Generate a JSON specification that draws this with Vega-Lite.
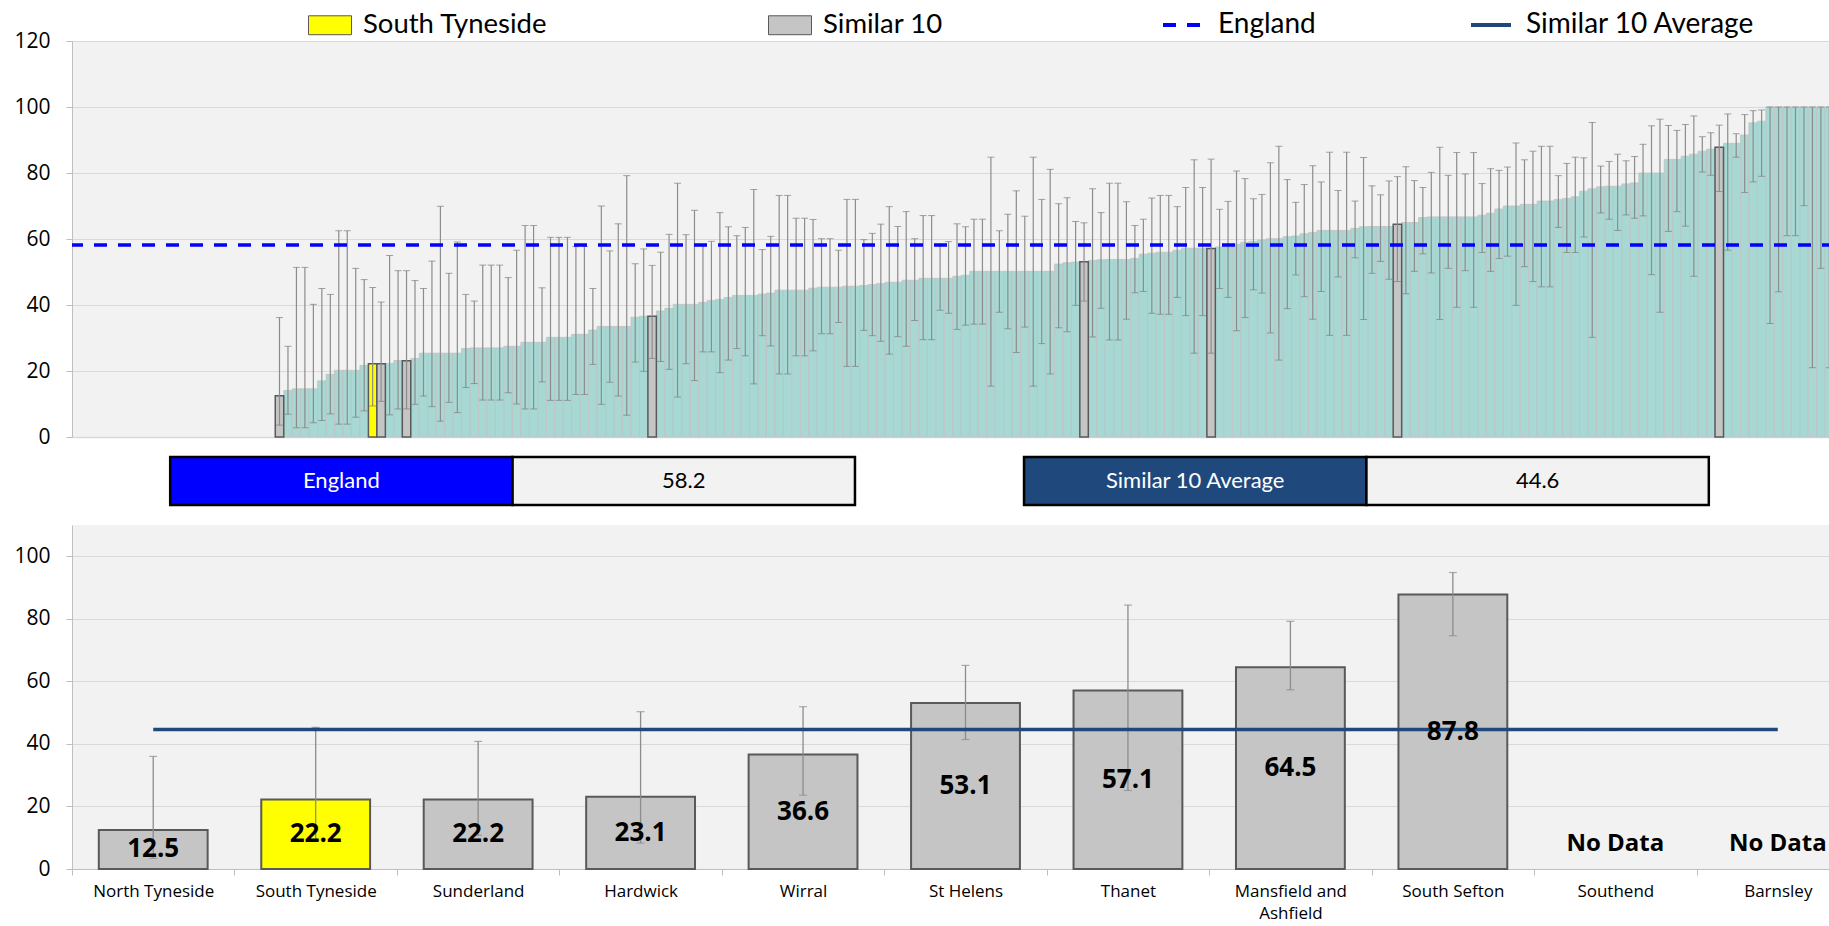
{
  "$schema": "https://vega.github.io/schema/vega-lite/v6.json",
  "padding": {"left": 13, "top": 3, "right": 0, "bottom": 0},
  "spacing": 20,
  "bounds": "flush",
  "datasets": {
    "top": [
      {"r":1,"g":"None"},{"r":2,"g":"None"},{"r":3,"g":"None"},{"r":4,"g":"None"},{"r":5,"g":"None"},{"r":6,"g":"None"},{"r":7,"g":"None"},{"r":8,"g":"None"},{"r":9,"g":"None"},{"r":10,"g":"None"},{"r":11,"g":"None"},{"r":12,"g":"None"},{"r":13,"g":"None"},{"r":14,"g":"None"},{"r":15,"g":"None"},{"r":16,"g":"None"},{"r":17,"g":"None"},{"r":18,"g":"None"},{"r":19,"g":"None"},{"r":20,"g":"None"},{"r":21,"g":"None"},{"r":22,"g":"None"},{"r":23,"g":"None"},{"r":24,"g":"None"},
      {"r":25,"v":12.5,"hi":36.2,"lo":3.6,"g":"Similar 10"},
      {"r":26,"v":14.1,"hi":27.5,"lo":6.9,"g":"Other"},
      {"r":27,"v":14.6,"hi":51.4,"lo":2.8,"g":"Other"},
      {"r":28,"v":14.6,"hi":51.4,"lo":2.8,"g":"Other"},
      {"r":29,"v":14.6,"hi":40.2,"lo":4.3,"g":"Other"},
      {"r":30,"v":17,"hi":45,"lo":5,"g":"Other"},
      {"r":31,"v":19,"hi":43.2,"lo":7,"g":"Other"},
      {"r":32,"v":20.2,"hi":62.5,"lo":3.9,"g":"Other"},
      {"r":33,"v":20.2,"hi":62.5,"lo":3.9,"g":"Other"},
      {"r":34,"v":20.2,"hi":51.1,"lo":6,"g":"Other"},
      {"r":35,"v":21.7,"hi":47.7,"lo":7.9,"g":"Other"},
      {"r":36,"v":22.2,"hi":45.3,"lo":9.4,"g":"South Tyneside"},
      {"r":37,"v":22.2,"hi":40.9,"lo":10.8,"g":"Similar 10"},
      {"r":38,"v":22.3,"hi":55,"lo":6.7,"g":"Other"},
      {"r":39,"v":23.2,"hi":50.4,"lo":8.5,"g":"Other"},
      {"r":40,"v":23.1,"hi":50.4,"lo":8.5,"g":"Similar 10"},
      {"r":41,"v":23.8,"hi":47.4,"lo":9.9,"g":"Other"},
      {"r":42,"v":25.4,"hi":45,"lo":12.4,"g":"Other"},
      {"r":43,"v":25.4,"hi":53.3,"lo":9.2,"g":"Other"},
      {"r":44,"v":25.4,"hi":69.9,"lo":4.8,"g":"Other"},
      {"r":45,"v":25.4,"hi":49.6,"lo":10.5,"g":"Other"},
      {"r":46,"v":25.4,"hi":59.1,"lo":7.4,"g":"Other"},
      {"r":47,"v":26.8,"hi":43.2,"lo":15,"g":"Other"},
      {"r":48,"v":27,"hi":41.2,"lo":16.2,"g":"Other"},
      {"r":49,"v":27,"hi":52.1,"lo":11.2,"g":"Other"},
      {"r":50,"v":27,"hi":52.1,"lo":11.2,"g":"Other"},
      {"r":51,"v":27,"hi":52.1,"lo":11.2,"g":"Other"},
      {"r":52,"v":27.5,"hi":48.3,"lo":13.4,"g":"Other"},
      {"r":53,"v":27.5,"hi":56.6,"lo":10,"g":"Other"},
      {"r":54,"v":28.7,"hi":64.1,"lo":8.5,"g":"Other"},
      {"r":55,"v":28.7,"hi":64.1,"lo":8.5,"g":"Other"},
      {"r":56,"v":28.7,"hi":45.2,"lo":16.7,"g":"Other"},
      {"r":57,"v":30.2,"hi":60.5,"lo":11.1,"g":"Other"},
      {"r":58,"v":30.2,"hi":60.5,"lo":11.1,"g":"Other"},
      {"r":59,"v":30.2,"hi":60.5,"lo":11.1,"g":"Other"},
      {"r":60,"v":31.1,"hi":57.7,"lo":12.9,"g":"Other"},
      {"r":61,"v":31.1,"hi":57.7,"lo":12.9,"g":"Other"},
      {"r":62,"v":32.4,"hi":45,"lo":22,"g":"Other"},
      {"r":63,"v":33.5,"hi":70,"lo":9.9,"g":"Other"},
      {"r":64,"v":33.5,"hi":56.4,"lo":16.6,"g":"Other"},
      {"r":65,"v":33.5,"hi":64.6,"lo":12.4,"g":"Other"},
      {"r":66,"v":33.5,"hi":79.2,"lo":6.6,"g":"Other"},
      {"r":67,"v":36.3,"hi":52.5,"lo":22.7,"g":"Other"},
      {"r":68,"v":36.6,"hi":57,"lo":19.9,"g":"Other"},
      {"r":69,"v":36.6,"hi":52,"lo":23.8,"g":"Similar 10"},
      {"r":70,"v":38.2,"hi":56,"lo":22.9,"g":"Other"},
      {"r":71,"v":39,"hi":61.4,"lo":20.5,"g":"Other"},
      {"r":72,"v":40.2,"hi":76.9,"lo":12.1,"g":"Other"},
      {"r":73,"v":40.2,"hi":61.3,"lo":22.2,"g":"Other"},
      {"r":74,"v":40.2,"hi":68.7,"lo":17.1,"g":"Other"},
      {"r":75,"v":40.8,"hi":58,"lo":25.8,"g":"Other"},
      {"r":76,"v":41.4,"hi":59.3,"lo":25.8,"g":"Other"},
      {"r":77,"v":41.7,"hi":68,"lo":19.5,"g":"Other"},
      {"r":78,"v":42.3,"hi":63.7,"lo":23.3,"g":"Other"},
      {"r":79,"v":42.9,"hi":61,"lo":26.8,"g":"Other"},
      {"r":80,"v":42.9,"hi":63.5,"lo":24.6,"g":"Other"},
      {"r":81,"v":42.9,"hi":75,"lo":16.1,"g":"Other"},
      {"r":82,"v":43.3,"hi":56.8,"lo":30.7,"g":"Other"},
      {"r":83,"v":43.6,"hi":60.8,"lo":27.6,"g":"Other"},
      {"r":84,"v":44.5,"hi":73.2,"lo":19.1,"g":"Other"},
      {"r":85,"v":44.5,"hi":73.2,"lo":19.1,"g":"Other"},
      {"r":86,"v":44.5,"hi":66.3,"lo":24.6,"g":"Other"},
      {"r":87,"v":44.5,"hi":66.3,"lo":24.6,"g":"Other"},
      {"r":88,"v":45.1,"hi":65.9,"lo":26.1,"g":"Other"},
      {"r":89,"v":45.4,"hi":60.1,"lo":31.3,"g":"Other"},
      {"r":90,"v":45.4,"hi":60.1,"lo":31.3,"g":"Other"},
      {"r":91,"v":45.4,"hi":56.6,"lo":34.7,"g":"Other"},
      {"r":92,"v":45.7,"hi":72,"lo":21.4,"g":"Other"},
      {"r":93,"v":45.7,"hi":72,"lo":21.4,"g":"Other"},
      {"r":94,"v":45.9,"hi":59.8,"lo":32.3,"g":"Other"},
      {"r":95,"v":46.2,"hi":61.7,"lo":30.7,"g":"Other"},
      {"r":96,"v":46.5,"hi":64.5,"lo":29,"g":"Other"},
      {"r":97,"v":46.9,"hi":69.8,"lo":25.1,"g":"Other"},
      {"r":98,"v":46.9,"hi":63.8,"lo":30.4,"g":"Other"},
      {"r":99,"v":47.5,"hi":68.3,"lo":27.5,"g":"Other"},
      {"r":100,"v":47.5,"hi":60.1,"lo":35.3,"g":"Other"},
      {"r":101,"v":48.1,"hi":67.1,"lo":29.5,"g":"Other"},
      {"r":102,"v":48.1,"hi":67.1,"lo":29.5,"g":"Other"},
      {"r":103,"v":48.1,"hi":58,"lo":38.4,"g":"Other"},
      {"r":104,"v":48.1,"hi":59.2,"lo":37.5,"g":"Other"},
      {"r":105,"v":48.7,"hi":64.6,"lo":32.6,"g":"Other"},
      {"r":106,"v":49,"hi":63.7,"lo":33.9,"g":"Other"},
      {"r":107,"v":50.2,"hi":66,"lo":34.2,"g":"Other"},
      {"r":108,"v":50.2,"hi":66,"lo":34.2,"g":"Other"},
      {"r":109,"v":50.2,"hi":84.8,"lo":15.4,"g":"Other"},
      {"r":110,"v":50.2,"hi":62.5,"lo":37.8,"g":"Other"},
      {"r":111,"v":50.2,"hi":67.5,"lo":32.8,"g":"Other"},
      {"r":112,"v":50.2,"hi":74.6,"lo":25.6,"g":"Other"},
      {"r":113,"v":50.2,"hi":66.9,"lo":33.3,"g":"Other"},
      {"r":114,"v":50.2,"hi":84.8,"lo":15.4,"g":"Other"},
      {"r":115,"v":50.2,"hi":72,"lo":28.3,"g":"Other"},
      {"r":116,"v":50.2,"hi":81.1,"lo":19.1,"g":"Other"},
      {"r":117,"v":52.4,"hi":70.7,"lo":33.1,"g":"Other"},
      {"r":118,"v":52.8,"hi":72.5,"lo":31.9,"g":"Other"},
      {"r":119,"v":53,"hi":65.3,"lo":39.9,"g":"Other"},
      {"r":120,"v":53.1,"hi":64.9,"lo":41.2,"g":"Similar 10"},
      {"r":121,"v":53.5,"hi":75.2,"lo":30.3,"g":"Other"},
      {"r":122,"v":53.7,"hi":68,"lo":39,"g":"Other"},
      {"r":123,"v":53.8,"hi":76.9,"lo":29.4,"g":"Other"},
      {"r":124,"v":53.8,"hi":76.9,"lo":29.4,"g":"Other"},
      {"r":125,"v":53.8,"hi":71.3,"lo":35.7,"g":"Other"},
      {"r":126,"v":54.1,"hi":64.1,"lo":43.7,"g":"Other"},
      {"r":127,"v":55.4,"hi":66,"lo":44.1,"g":"Other"},
      {"r":128,"v":55.7,"hi":72.4,"lo":37.5,"g":"Other"},
      {"r":129,"v":56,"hi":73.2,"lo":37.2,"g":"Other"},
      {"r":130,"v":56,"hi":73.2,"lo":37.2,"g":"Other"},
      {"r":131,"v":56.6,"hi":69.8,"lo":42.3,"g":"Other"},
      {"r":132,"v":57.2,"hi":75.6,"lo":36.8,"g":"Other"},
      {"r":133,"v":57.2,"hi":84,"lo":25.4,"g":"Other"},
      {"r":134,"v":57.2,"hi":75.6,"lo":36.8,"g":"Other"},
      {"r":135,"v":57.1,"hi":84.2,"lo":25.4,"g":"Similar 10"},
      {"r":136,"v":57.6,"hi":69,"lo":45,"g":"Other"},
      {"r":137,"v":57.6,"hi":71.4,"lo":42.3,"g":"Other"},
      {"r":138,"v":58.4,"hi":80.6,"lo":32.2,"g":"Other"},
      {"r":139,"v":59,"hi":78.3,"lo":36.2,"g":"Other"},
      {"r":140,"v":59.3,"hi":72.2,"lo":44.6,"g":"Other"},
      {"r":141,"v":59.7,"hi":73.5,"lo":43.6,"g":"Other"},
      {"r":142,"v":60.1,"hi":83.1,"lo":31.5,"g":"Other"},
      {"r":143,"v":60.1,"hi":88.1,"lo":23.3,"g":"Other"},
      {"r":144,"v":60.7,"hi":78,"lo":38.9,"g":"Other"},
      {"r":145,"v":60.9,"hi":71.1,"lo":49.1,"g":"Other"},
      {"r":146,"v":61.6,"hi":76.5,"lo":42.5,"g":"Other"},
      {"r":147,"v":62,"hi":82.2,"lo":35.7,"g":"Other"},
      {"r":148,"v":62.6,"hi":77.3,"lo":44.1,"g":"Other"},
      {"r":149,"v":62.6,"hi":86.3,"lo":30.8,"g":"Other"},
      {"r":150,"v":62.6,"hi":74.7,"lo":48.5,"g":"Other"},
      {"r":151,"v":62.6,"hi":86.3,"lo":30.8,"g":"Other"},
      {"r":152,"v":63.2,"hi":71.5,"lo":54.3,"g":"Other"},
      {"r":153,"v":63.7,"hi":84.7,"lo":35.6,"g":"Other"},
      {"r":154,"v":63.8,"hi":76.1,"lo":49.6,"g":"Other"},
      {"r":155,"v":63.8,"hi":73.4,"lo":53.2,"g":"Other"},
      {"r":156,"v":63.8,"hi":77.6,"lo":47.8,"g":"Other"},
      {"r":157,"v":64.5,"hi":78.9,"lo":47.1,"g":"Similar 10"},
      {"r":158,"v":65,"hi":81.9,"lo":43.4,"g":"Other"},
      {"r":159,"v":65,"hi":77.7,"lo":50.2,"g":"Other"},
      {"r":160,"v":66.5,"hi":75.6,"lo":55.5,"g":"Other"},
      {"r":161,"v":66.7,"hi":80.2,"lo":49.7,"g":"Other"},
      {"r":162,"v":66.7,"hi":87.8,"lo":35.6,"g":"Other"},
      {"r":163,"v":66.7,"hi":79.3,"lo":51.1,"g":"Other"},
      {"r":164,"v":66.7,"hi":86.2,"lo":39.3,"g":"Other"},
      {"r":165,"v":66.7,"hi":79.7,"lo":50.4,"g":"Other"},
      {"r":166,"v":66.7,"hi":86.2,"lo":39.3,"g":"Other"},
      {"r":167,"v":67.2,"hi":76.8,"lo":55.9,"g":"Other"},
      {"r":168,"v":67.8,"hi":81.3,"lo":50.2,"g":"Other"},
      {"r":169,"v":69.1,"hi":80.8,"lo":54.1,"g":"Other"},
      {"r":170,"v":70,"hi":81.8,"lo":54.8,"g":"Other"},
      {"r":171,"v":70,"hi":89.1,"lo":39.9,"g":"Other"},
      {"r":172,"v":70.5,"hi":84,"lo":51.6,"g":"Other"},
      {"r":173,"v":70.5,"hi":86.6,"lo":47.1,"g":"Other"},
      {"r":174,"v":71.5,"hi":88.1,"lo":45.5,"g":"Other"},
      {"r":175,"v":71.5,"hi":88.1,"lo":45.5,"g":"Other"},
      {"r":176,"v":72,"hi":79.2,"lo":63.5,"g":"Other"},
      {"r":177,"v":72.3,"hi":82.9,"lo":55.9,"g":"Other"},
      {"r":178,"v":72.8,"hi":84.8,"lo":55.9,"g":"Other"},
      {"r":179,"v":74.5,"hi":84.6,"lo":60.6,"g":"Other"},
      {"r":180,"v":75.2,"hi":95.3,"lo":30.2,"g":"Other"},
      {"r":181,"v":75.8,"hi":82.1,"lo":67.9,"g":"Other"},
      {"r":182,"v":76,"hi":83.5,"lo":66,"g":"Other"},
      {"r":183,"v":76,"hi":85.7,"lo":62.6,"g":"Other"},
      {"r":184,"v":76.7,"hi":83.7,"lo":67.3,"g":"Other"},
      {"r":185,"v":77,"hi":85,"lo":66.3,"g":"Other"},
      {"r":186,"v":80,"hi":88.7,"lo":67,"g":"Other"},
      {"r":187,"v":80,"hi":94.3,"lo":49.2,"g":"Other"},
      {"r":188,"v":80,"hi":96.3,"lo":37.8,"g":"Other"},
      {"r":189,"v":84.1,"hi":94.4,"lo":62.3,"g":"Other"},
      {"r":190,"v":84.1,"hi":92.9,"lo":68.3,"g":"Other"},
      {"r":191,"v":85.1,"hi":94.7,"lo":63.9,"g":"Other"},
      {"r":192,"v":85.7,"hi":97.3,"lo":48.7,"g":"Other"},
      {"r":193,"v":86.6,"hi":91,"lo":80.3,"g":"Other"},
      {"r":194,"v":87.2,"hi":92.2,"lo":79.3,"g":"Other"},
      {"r":195,"v":87.8,"hi":94.5,"lo":74.4,"g":"Similar 10"},
      {"r":196,"v":89,"hi":97.9,"lo":56.6,"g":"Other"},
      {"r":197,"v":89,"hi":91.9,"lo":84.8,"g":"Other"},
      {"r":198,"v":91.5,"hi":97.7,"lo":74.1,"g":"Other"},
      {"r":199,"v":95.2,"hi":98.9,"lo":77.3,"g":"Other"},
      {"r":200,"v":95.7,"hi":99.1,"lo":79,"g":"Other"},
      {"r":201,"v":100,"hi":100,"lo":34.4,"g":"Other"},
      {"r":202,"v":100,"hi":100,"lo":44,"g":"Other"},
      {"r":203,"v":100,"hi":100,"lo":61,"g":"Other"},
      {"r":204,"v":100,"hi":100,"lo":61,"g":"Other"},
      {"r":205,"v":100,"hi":100,"lo":70.1,"g":"Other"},
      {"r":206,"v":100,"hi":100,"lo":21,"g":"Other"},
      {"r":207,"v":100,"hi":100,"lo":51.1,"g":"Other"},
      {"r":208,"v":100,"hi":100,"lo":21,"g":"Other"},
      {"r":209,"v":100,"hi":100,"lo":55,"g":"Other"},
      {"r":210,"v":100,"hi":100,"lo":48,"g":"Other"},
      {"r":211,"v":100,"hi":100,"lo":62,"g":"Other"}
    ],
    "bottom": [
      {"a":"North Tyneside","v":12.5,"hi":36.0,"lo":3.4,"g":"Similar 10"},
      {"a":"South Tyneside","v":22.2,"hi":45.3,"lo":9.2,"g":"South Tyneside"},
      {"a":"Sunderland","v":22.2,"hi":40.8,"lo":10.8,"g":"Similar 10"},
      {"a":"Hardwick","v":23.1,"hi":50.3,"lo":8.3,"g":"Similar 10"},
      {"a":"Wirral","v":36.6,"hi":51.9,"lo":23.6,"g":"Similar 10"},
      {"a":"St Helens","v":53.1,"hi":65.1,"lo":41.4,"g":"Similar 10"},
      {"a":"Thanet","v":57.1,"hi":84.4,"lo":25.1,"g":"Similar 10"},
      {"a":"Mansfield and Ashfield","v":64.5,"hi":79.2,"lo":57.3,"g":"Similar 10"},
      {"a":"South Sefton","v":87.8,"hi":94.8,"lo":74.6,"g":"Similar 10"},
      {"a":"Southend","g":"Similar 10"},
      {"a":"Barnsley","g":"Similar 10"}
    ],
    "avg": [
      {"a":"North Tyneside","v":44.6,"series":"Similar 10 Average"},
      {"a":"South Tyneside","v":44.6,"series":"Similar 10 Average"},
      {"a":"Sunderland","v":44.6,"series":"Similar 10 Average"},
      {"a":"Hardwick","v":44.6,"series":"Similar 10 Average"},
      {"a":"Wirral","v":44.6,"series":"Similar 10 Average"},
      {"a":"St Helens","v":44.6,"series":"Similar 10 Average"},
      {"a":"Thanet","v":44.6,"series":"Similar 10 Average"},
      {"a":"Mansfield and Ashfield","v":44.6,"series":"Similar 10 Average"},
      {"a":"South Sefton","v":44.6,"series":"Similar 10 Average"},
      {"a":"Southend","v":44.6,"series":"Similar 10 Average"},
      {"a":"Barnsley","v":44.6,"series":"Similar 10 Average"}
    ]
  },
  "vconcat": [
    {
      "width": 1787,
      "height": 396,
      "layer": [
        {
          "data": {"name": "top"},
          "mark": {"type": "point", "opacity": 0},
          "encoding": {
            "x": {"field": "r", "type": "ordinal", "scale": {"paddingInner": 0, "paddingOuter": 0}, "axis": {"labels": false, "ticks": false, "title": null, "domainColor": "#D9D9D9", "domainWidth": 1.5, "minExtent": 0, "maxExtent": 0, "labelPadding": 0}}
          }
        },
        {
          "data": {"name": "top"},
          "transform": [{"filter": "datum.g === 'Other'"}],
          "mark": {"type": "bar", "fill": "#A7D8D3", "stroke": "#C2C2C2", "strokeWidth": 0.8},
          "encoding": {
            "x": {"field": "r", "type": "ordinal"},
            "y": {"field": "v", "type": "quantitative", "scale": {"domain": [0, 120], "nice": false}, "axis": {"values": [0, 20, 40, 60, 80, 100, 120], "title": null, "grid": true, "tickSize": 6, "labelPadding": 16}}
          }
        },
        {
          "data": {"name": "top"},
          "transform": [{"filter": "datum.g === 'Similar 10' || datum.g === 'South Tyneside'"}],
          "mark": {"type": "bar", "stroke": "#595959", "strokeWidth": 1.5},
          "encoding": {
            "x": {"field": "r", "type": "ordinal"},
            "y": {"field": "v", "type": "quantitative"},
            "fill": {"field": "g", "type": "nominal", "scale": {"domain": ["South Tyneside", "Similar 10"], "range": ["#FFFF00", "#C5C5C5"]},
              "legend": {"orient": "none", "legendX": 236, "legendY": -38, "direction": "horizontal", "title": null, "padding": 0, "symbolType": "M-1,-0.44H1V0.44H-1Z", "symbolSize": 1849, "symbolStrokeColor": "#7F7F7F", "symbolStrokeWidth": 1, "labelFont": "Lato", "labelFontSize": 27.5, "labelLimit": 0, "labelOffset": 11, "columnPadding": 218, "labelColor": "#000000"}}
          }
        },
        {
          "data": {"name": "top"},
          "transform": [{"filter": "isValid(datum.v)"}],
          "mark": {"type": "rule", "color": "#8C8C8C", "strokeWidth": 1.2},
          "encoding": {
            "x": {"field": "r", "type": "ordinal"},
            "y": {"field": "lo", "type": "quantitative"},
            "y2": {"field": "hi"}
          }
        },
        {
          "data": {"name": "top"},
          "transform": [{"filter": "isValid(datum.v)"}],
          "mark": {"type": "tick", "color": "#7F7F7F", "size": 7, "thickness": 1},
          "encoding": {
            "x": {"field": "r", "type": "ordinal"},
            "y": {"field": "hi", "type": "quantitative"}
          }
        },
        {
          "data": {"name": "top"},
          "transform": [{"filter": "isValid(datum.v)"}],
          "mark": {"type": "tick", "color": "#7F7F7F", "size": 7, "thickness": 1},
          "encoding": {
            "x": {"field": "r", "type": "ordinal"},
            "y": {"field": "lo", "type": "quantitative"}
          }
        },
        {
          "data": {"values": [{"series": "England", "value": 58.2}]},
          "mark": {"type": "rule", "strokeWidth": 3.5, "strokeCap": "butt"},
          "encoding": {
            "y": {"field": "value", "type": "quantitative"},
            "stroke": {"field": "series", "type": "nominal", "scale": {"domain": ["England", "Similar 10 Average"], "range": ["#0000FF", "#1F497D"]},
              "legend": {"orient": "none", "legendX": 1089, "legendY": -38, "direction": "horizontal", "title": null, "padding": 0, "symbolType": "stroke", "symbolSize": 1600, "symbolStrokeWidth": 4, "labelFont": "Lato", "labelFontSize": 28, "labelLimit": 0, "labelOffset": 13, "columnPadding": 147, "labelColor": "#000000"}},
            "strokeDash": {"field": "series", "type": "nominal", "scale": {"domain": ["England", "Similar 10 Average"], "range": [[13, 11], [1, 0]]},
              "legend": {"orient": "none", "legendX": 1089, "legendY": -38, "direction": "horizontal", "title": null, "padding": 0, "symbolType": "stroke", "symbolSize": 1600, "symbolStrokeWidth": 4, "labelFont": "Lato", "labelFontSize": 28, "labelLimit": 0, "labelOffset": 13, "columnPadding": 147, "labelColor": "#000000"}}
          }
        }
      ]
    },
    {
      "width": 1735,
      "height": 48,
      "view": {"fill": null, "stroke": null},
      "data": {"values": [
        {"box": "England", "part": "name", "txt": "England"},
        {"box": "England", "part": "value", "txt": "58.2"},
        {"box": "Similar 10 Average", "part": "name", "txt": "Similar 10 Average"},
        {"box": "Similar 10 Average", "part": "value", "txt": "44.6"}
      ]},
      "encoding": {
        "x": {"field": "box", "type": "nominal", "sort": null, "axis": null, "scale": {"paddingInner": 0.198, "paddingOuter": 0.115}},
        "xOffset": {"field": "part", "type": "nominal", "scale": {"paddingInner": 0, "paddingOuter": 0}}
      },
      "layer": [
        {
          "mark": {"type": "rect", "stroke": "#000000", "strokeWidth": 2.5},
          "encoding": {
            "fill": {"condition": [{"test": "datum.part === 'value'", "value": "#F2F2F2"}, {"test": "datum.box === 'England'", "value": "#0000FF"}], "value": "#1F497D"}
          }
        },
        {
          "mark": {"type": "text", "font": "Lato", "fontSize": 22},
          "encoding": {
            "text": {"field": "txt"},
            "color": {"condition": {"test": "datum.part === 'name'", "value": "#FFFFFF"}, "value": "#000000"}
          }
        }
      ]
    },
    {
      "width": 1787,
      "height": 344,
      "layer": [
        {
          "data": {"name": "bottom"},
          "mark": {"type": "bar", "stroke": "#595959", "strokeWidth": 2, "width": {"band": 0.67}},
          "encoding": {
            "x": {"field": "a", "type": "nominal", "sort": null,
              "scale": {"domain": ["North Tyneside", "South Tyneside", "Sunderland", "Hardwick", "Wirral", "St Helens", "Thanet", "Mansfield and Ashfield", "South Sefton", "Southend", "Barnsley"], "paddingInner": 0, "paddingOuter": 0},
              "axis": {"title": null, "labelAngle": 0, "labelFontSize": 17, "tickBand": "extent", "tickSize": 6, "labelPadding": 8, "labelLineHeight": 22,
                "labelExpr": "datum.label === 'Mansfield and Ashfield' ? ['Mansfield and', 'Ashfield'] : datum.label"}},
            "y": {"field": "v", "type": "quantitative", "scale": {"domain": [0, 110], "nice": false}, "axis": {"values": [0, 20, 40, 60, 80, 100], "title": null, "grid": true, "tickSize": 6, "labelPadding": 16}},
            "fill": {"field": "g", "type": "nominal"}
          }
        },
        {
          "data": {"name": "bottom"},
          "transform": [{"filter": "isValid(datum.v)"}],
          "mark": {"type": "rule", "color": "#8C8C8C", "strokeWidth": 1.3},
          "encoding": {
            "x": {"field": "a", "type": "nominal", "sort": null},
            "y": {"field": "lo", "type": "quantitative"},
            "y2": {"field": "hi"}
          }
        },
        {
          "data": {"name": "bottom"},
          "transform": [{"filter": "isValid(datum.v)"}],
          "mark": {"type": "tick", "color": "#8C8C8C", "size": 8, "thickness": 1.2},
          "encoding": {
            "x": {"field": "a", "type": "nominal", "sort": null},
            "y": {"field": "hi", "type": "quantitative"}
          }
        },
        {
          "data": {"name": "bottom"},
          "transform": [{"filter": "isValid(datum.v)"}],
          "mark": {"type": "tick", "color": "#8C8C8C", "size": 8, "thickness": 1.2},
          "encoding": {
            "x": {"field": "a", "type": "nominal", "sort": null},
            "y": {"field": "lo", "type": "quantitative"}
          }
        },
        {
          "data": {"name": "avg"},
          "mark": {"type": "line", "strokeWidth": 3.5},
          "encoding": {
            "x": {"field": "a", "type": "nominal", "sort": null},
            "y": {"field": "v", "type": "quantitative"},
            "stroke": {"field": "series", "type": "nominal"},
            "strokeDash": {"field": "series", "type": "nominal"}
          }
        },
        {
          "data": {"name": "bottom"},
          "transform": [{"filter": "isValid(datum.v)"}, {"calculate": "datum.v / 2", "as": "mid"}],
          "mark": {"type": "text", "font": "Open Sans", "fontWeight": "bold", "fontSize": 26, "baseline": "middle", "color": "#000000"},
          "encoding": {
            "x": {"field": "a", "type": "nominal", "sort": null},
            "y": {"field": "mid", "type": "quantitative"},
            "text": {"field": "v", "type": "quantitative", "format": ".1f"}
          }
        },
        {
          "data": {"name": "bottom"},
          "transform": [{"filter": "!isValid(datum.v)"}],
          "mark": {"type": "text", "font": "Open Sans", "fontWeight": "bold", "fontSize": 24, "baseline": "middle", "color": "#000000"},
          "encoding": {
            "x": {"field": "a", "type": "nominal", "sort": null},
            "y": {"datum": 8},
            "text": {"value": "No Data"}
          }
        }
      ]
    }
  ],
  "config": {
    "font": "Open Sans",
    "view": {"fill": "#F2F2F2", "stroke": null},
    "axis": {"labelFont": "Open Sans", "labelColor": "#000000", "labelFontSize": 21, "gridColor": "#D9D9D9", "domainColor": "#BFBFBF", "tickColor": "#BFBFBF"}
  }
}
